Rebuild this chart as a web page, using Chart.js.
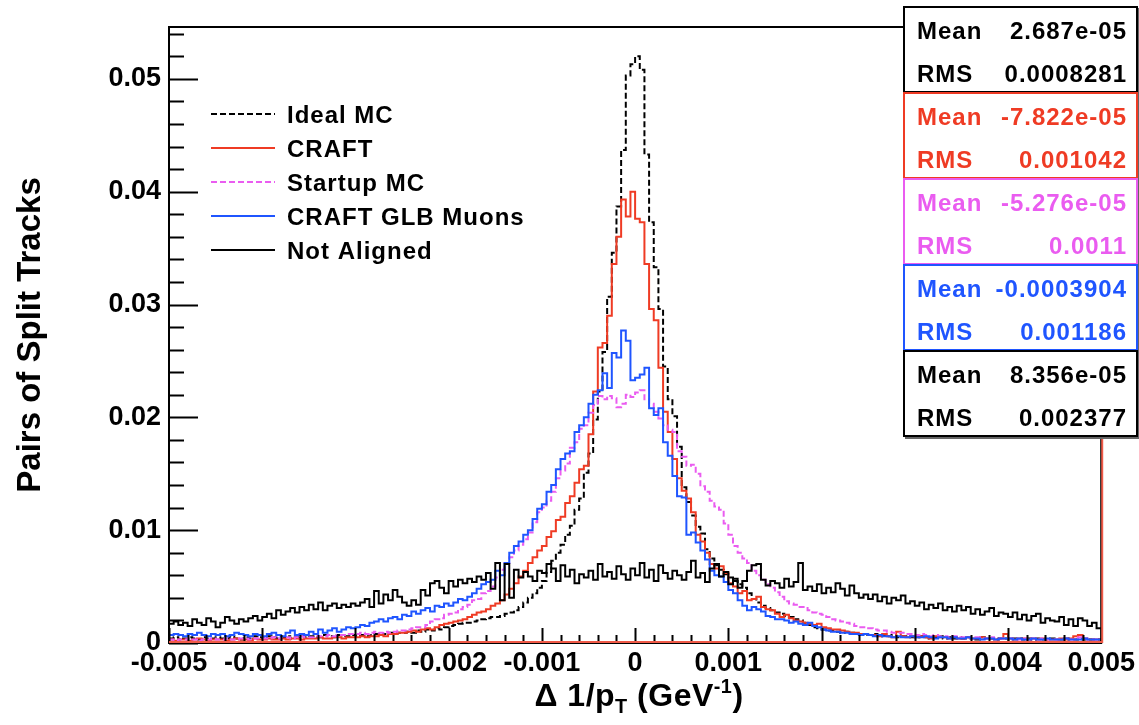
<!DOCTYPE html>
<html>
<head>
<meta charset="utf-8">
<title>Pairs of split tracks vs delta 1/pT</title>
<script src="https://cdn.jsdelivr.net/npm/chart.js@4.4.1/dist/chart.umd.min.js"></script>
<style>
  body { margin: 0; background: #fff; }
  #wrap { position: relative; width: 1139px; height: 725px; font-family: "Liberation Sans", Arial, sans-serif; }
  #xtitle { position: absolute; left: 639px; top: 677px; transform: translateX(-50%); font-size: 32px; font-weight: bold; line-height: 36px; white-space: nowrap; letter-spacing: 0.5px; }
  #xtitle sub { font-size: 62%; vertical-align: -7px; line-height: 0; }
  #xtitle sup { font-size: 62%; vertical-align: 13px; line-height: 0; }
  .stat { position: absolute; left: 903px; width: 231px; height: 83px; border: 2px solid #000; background: #fff; box-shadow: 2px 2px 0 #666; font-size: 24px; font-weight: bold; letter-spacing: 1px; }
  .stat span { position: absolute; line-height: 24px; white-space: nowrap; }
</style>
</head>
<body>
<div id="wrap">
  <canvas id="hist" width="1139" height="725"></canvas>
  <div id="xtitle">&Delta; 1/p<sub>T</sub> (GeV<sup>-1</sup>)</div>
</div>
<script>
// histogram binning: 200 bins from -0.005 to 0.005
const binLow = -0.005;
const binWidth = 0.00005;

// bin contents, in units of 1e-3
const idealMC = [
  0.4,0.5,0.3,0.4,0.5,0.4,0.3,0.5,0.4,0.4, 0.5,0.4,0.4,0.6,0.4,0.3,0.5,0.4,0.6,0.5,
  0.4,0.6,0.5,0.4,0.5,0.6,0.4,0.5,0.6,0.5, 0.6,0.5,0.5,0.7,0.6,0.5,0.7,0.6,0.6,0.7,
  0.6,0.7,0.6,0.7,0.8,0.7,0.8,0.9,0.8,0.9, 0.9,1.0,0.9,1.1,1.0,1.2,1.1,1.3,1.2,1.4,
  1.5,1.6,1.7,1.8,1.8,1.9,2.0,2.1,2.2,2.3, 2.3,2.4,2.6,2.7,2.9,3.2,3.6,4.0,4.4,4.9,
  5.5,6.3,7.3,8.0,8.7,9.6,10.4,11.8,12.8,15.1, 16.8,19.8,22.3,25.8,30.7,34.6,38.7,43.7,50.3,51.3,
  52.0,50.8,43.3,37.3,33.3,29.6,24.5,21.6,20.1,17.4, 13.8,12.5,11.3,10.3,9.7,8.3,7.5,6.9,6.5,6.1,
  5.8,5.5,5.2,4.9,4.4,3.9,3.6,3.3,3.1,2.9, 2.7,2.6,2.4,2.3,2.1,2.0,1.8,1.6,1.4,1.3,
  1.2,1.1,1.1,1.0,0.9,1.0,0.9,0.8,0.8,0.7, 0.7,0.8,0.6,0.7,0.6,0.7,0.5,0.6,0.6,0.5,
  0.5,0.6,0.5,0.4,0.5,0.6,0.4,0.5,0.4,0.5, 0.4,0.5,0.4,0.3,0.5,0.4,0.4,0.3,0.4,0.4,
  0.3,0.4,0.4,0.3,0.4,0.3,0.4,0.3,0.3,0.4, 0.3,0.3,0.4,0.3,0.3,0.4,0.3,0.3,0.3,0.3
];
const craft = [
  0.3,0.2,0.3,0.3,0.2,0.3,0.4,0.3,0.2,0.3, 0.3,0.3,0.2,0.3,0.4,0.3,0.3,0.2,0.4,0.3,
  0.3,0.4,0.3,0.3,0.4,0.3,0.4,0.4,0.3,0.4, 0.4,0.4,0.5,0.4,0.4,0.5,0.5,0.4,0.5,0.5,
  0.5,0.6,0.5,0.6,0.6,0.7,0.6,0.8,0.8,0.9, 0.9,1.0,1.1,1.0,1.2,1.3,1.2,1.4,1.6,1.7,
  1.8,1.9,2.0,2.1,2.3,2.5,2.7,2.8,3.0,3.3, 3.5,3.8,4.3,4.8,5.3,5.9,6.4,7.1,7.6,8.2,
  8.6,9.4,9.9,10.9,11.2,12.4,13.0,14.2,15.4,15.7, 18.5,22.3,26.2,26.6,29.0,33.6,36.0,39.3,37.8,40.0,
  37.6,37.3,33.6,29.6,28.6,24.4,20.5,18.7,16.3,14.6, 13.5,12.8,11.6,9.6,9.0,8.0,7.0,6.6,6.8,6.2,
  5.3,5.0,4.4,4.6,3.8,3.9,4.1,3.2,3.0,2.9, 2.6,2.3,2.5,2.2,2.0,1.9,1.8,1.7,1.6,1.7,
  1.4,1.3,1.2,1.2,1.1,1.0,0.9,0.9,0.8,0.8, 0.7,0.7,0.6,0.8,0.6,0.5,1.0,0.6,0.5,0.6,
  0.5,0.6,0.5,0.4,0.6,0.5,0.5,0.4,0.5,0.4, 0.4,0.5,0.4,0.4,0.5,0.4,0.4,0.3,0.4,0.8,
  0.4,0.3,0.4,0.4,0.3,0.4,0.3,0.4,0.3,0.3, 0.3,0.4,0.3,0.4,0.6,0.7,0.4,0.3,0.3,0.3
];
const startupMC = [
  0.3,0.2,0.3,0.3,0.4,0.3,0.2,0.3,0.3,0.4, 0.3,0.3,0.4,0.3,0.3,0.4,0.4,0.3,0.4,0.4,
  0.4,0.4,0.5,0.4,0.5,0.5,0.4,0.5,0.6,0.5, 0.5,0.6,0.6,0.6,0.7,0.6,0.7,0.7,0.8,0.8,
  0.8,0.9,0.8,0.9,1.0,0.9,1.0,0.9,1.0,1.1, 1.1,1.2,1.3,1.4,1.4,1.6,1.9,2.1,2.2,2.5,
  2.6,2.7,3.0,3.2,3.4,3.8,3.9,4.4,4.6,5.0, 5.8,6.5,7.1,7.6,8.2,8.7,9.2,9.8,10.7,11.6,
  12.0,12.6,13.4,14.6,15.3,15.9,17.3,17.8,19.0,19.3, 20.4,21.1,21.9,21.6,21.9,21.7,20.9,21.2,22.0,21.8,
  22.2,22.4,21.6,21.2,20.5,19.9,19.3,18.9,18.7,17.0, 16.5,15.7,15.8,15.0,13.9,13.4,12.6,12.1,11.8,10.6,
  9.6,8.6,8.0,7.5,7.1,6.4,6.0,5.6,5.2,4.9, 4.5,4.1,3.7,3.5,3.4,3.2,3.2,2.9,2.7,2.6,
  2.5,2.3,2.1,2.0,1.9,1.8,1.7,1.5,1.4,1.4, 1.3,1.2,1.1,1.1,1.0,0.9,0.9,0.9,0.8,0.8,
  0.7,0.8,0.7,0.6,0.7,0.6,0.6,0.5,0.6,0.5, 0.5,0.5,0.4,0.5,0.4,0.4,0.5,0.4,0.4,0.4,
  0.4,0.4,0.3,0.4,0.3,0.4,0.3,0.4,0.3,0.3, 0.3,0.3,0.4,0.3,0.3,0.5,0.4,0.3,0.3,0.3
];
const craftGlbMuons = [
  0.7,0.8,0.7,0.6,0.8,0.7,0.9,0.7,0.6,0.8, 0.7,0.8,0.6,0.7,0.9,0.8,0.7,0.6,0.8,0.7,
  0.6,0.8,0.9,0.7,0.6,0.9,1.1,0.7,0.8,0.7, 1.0,0.8,1.2,0.9,1.1,1.3,1.0,1.2,1.4,1.3,
  1.4,1.6,1.5,1.8,1.9,2.1,1.9,2.2,2.3,2.1, 2.5,2.4,2.8,2.6,2.9,3.1,2.8,3.3,3.2,3.5,
  3.3,3.6,3.9,3.8,4.1,4.4,4.8,5.2,5.4,5.6, 6.4,6.0,7.1,8.0,8.6,9.0,9.6,10.0,11.0,11.9,
  12.3,13.4,14.0,15.4,16.3,16.8,17.0,18.7,19.3,20.0, 21.2,22.0,22.4,23.9,22.6,25.7,25.3,27.7,26.8,23.3,
  23.5,23.8,24.4,20.8,20.2,20.8,17.8,16.6,14.8,13.0, 12.9,9.6,9.8,8.9,8.2,7.4,6.4,6.0,5.9,5.4,
  4.7,4.4,3.8,3.3,2.9,3.2,3.0,2.8,2.4,2.3, 2.1,2.1,2.0,1.8,1.9,1.7,1.6,1.8,1.5,1.4,
  1.2,1.1,1.0,1.0,0.9,0.9,0.8,0.8,0.7,0.8, 0.7,0.6,0.7,0.6,0.6,0.5,0.6,0.5,0.5,0.6,
  0.5,0.5,0.6,0.5,0.4,0.5,0.5,0.4,0.5,0.4, 0.4,0.5,0.4,0.4,0.3,0.4,0.4,0.3,0.4,0.4,
  0.4,0.3,0.4,0.3,0.3,0.4,0.3,0.3,0.4,0.3, 0.3,0.3,0.4,0.3,0.3,0.3,0.4,0.3,0.3,0.3
];
const notAligned = [
  1.7,1.9,1.6,1.8,1.5,2.1,1.8,1.6,2.2,1.9, 1.4,1.8,2.3,2.0,1.7,2.1,1.9,2.2,2.4,2.0,
  2.3,2.6,2.2,2.9,2.5,2.8,3.1,2.7,3.2,2.9, 3.4,3.0,3.6,2.9,3.3,3.5,3.1,3.4,3.2,3.5,
  3.3,3.6,3.9,3.2,4.6,3.5,4.3,3.8,4.7,4.1, 3.6,3.3,3.8,3.4,4.7,4.2,5.3,5.5,4.9,4.4,
  5.5,5.0,5.6,5.3,5.7,5.4,5.9,5.6,6.2,4.8, 7.1,3.8,7.0,4.0,6.5,5.8,6.3,5.9,5.5,6.4,
  6.2,7.0,6.6,5.5,6.9,5.9,6.5,5.3,6.1,5.8, 6.4,5.6,7.0,5.9,6.3,5.7,6.8,6.1,5.6,6.6,
  6.0,7.1,5.8,6.5,5.5,6.9,6.2,5.7,6.4,6.0, 5.6,6.3,7.3,5.8,6.2,5.4,6.6,7.0,5.9,6.3,
  5.2,5.7,4.9,5.5,6.4,6.9,7.0,5.6,5.1,5.5, 5.3,4.9,5.7,5.0,5.4,7.1,4.7,5.0,4.6,5.2,
  4.4,4.9,4.5,5.3,4.8,4.2,5.1,4.4,4.0,4.3, 3.9,4.3,3.7,4.1,3.5,4.0,3.8,4.2,3.5,3.7,
  3.3,3.6,3.0,3.4,3.1,3.5,2.9,3.2,2.8,3.3, 2.9,3.2,2.6,3.0,2.5,2.8,3.1,2.4,2.7,2.6,
  2.3,2.7,2.1,2.5,2.0,2.4,2.6,1.8,2.2,2.0, 1.9,2.3,1.6,2.1,1.5,2.2,2.0,1.5,1.8,1.3
];

const seriesNames = ['Ideal MC', 'CRAFT', 'Startup MC', 'CRAFT GLB Muons', 'Not Aligned'];
const seriesValues = [idealMC, craft, startupMC, craftGlbMuons, notAligned];
const seriesColors = ['#000000', '#ef3b24', '#ea5cf0', '#1f55ff', '#000000'];
const seriesDashed = [true, false, true, false, false];

// statistics boxes
const statMean = ['2.687e-05', '-7.822e-05', '-5.276e-05', '-0.0003904', '8.356e-05'];
const statRms = ['0.0008281', '0.001042', '0.0011', '0.001186', '0.002377'];

// axis ticks
const xTickValues = [-0.005, -0.004, -0.003, -0.002, -0.001, 0, 0.001, 0.002, 0.003, 0.004, 0.005];
const xTickLabels = ['-0.005', '-0.004', '-0.003', '-0.002', '-0.001', '0', '0.001', '0.002', '0.003', '0.004', '0.005'];
const yTickValues = [0, 0.01, 0.02, 0.03, 0.04, 0.05];
const yTickLabels = ['0', '0.01', '0.02', '0.03', '0.04', '0.05'];
const yMax = 0.0546;

const fontFamily = '"Liberation Sans", Arial, sans-serif';

// one point per bin low edge plus the last high edge, drawn as steps
function histPoints(vals) {
  const pts = vals.map((v, i) => ({ x: binLow + i * binWidth, y: v / 1000 }));
  pts.push({ x: binLow + vals.length * binWidth, y: vals[vals.length - 1] / 1000 });
  return pts;
}

const datasets = seriesNames.map((name, i) => ({
  label: name,
  data: histPoints(seriesValues[i]),
  borderColor: seriesColors[i],
  borderWidth: 2,
  borderDash: seriesDashed[i] ? [6, 3] : [],
  pointRadius: 0,
  fill: false,
  stepped: true,
  order: seriesNames.length - i
}));

// frame and inside ticks, the way ROOT draws them
const rootFrame = {
  id: 'rootFrame',
  afterDatasetsDraw(chart) {
    const { ctx, chartArea: a, scales: { x, y } } = chart;
    ctx.save();
    ctx.strokeStyle = '#000';
    ctx.lineWidth = 2;
    ctx.setLineDash([]);
    ctx.strokeRect(a.left, a.top, a.right - a.left, a.bottom - a.top);
    ctx.beginPath();
    for (let k = 0; k * 0.002 <= yMax; k++) {
      const py = Math.round(y.getPixelForValue(k * 0.002)) + 0.5;
      const len = k % 5 === 0 ? 29 : 15;
      ctx.moveTo(a.left, py);
      ctx.lineTo(a.left + len, py);
    }
    for (let k = -25; k <= 25; k++) {
      const px = Math.round(x.getPixelForValue(k * 0.0002)) + 0.5;
      const len = k % 5 === 0 ? 15 : 8;
      ctx.moveTo(px, a.bottom);
      ctx.lineTo(px, a.bottom - len);
    }
    ctx.stroke();
    ctx.strokeStyle = '#f05a48';
    ctx.beginPath();
    ctx.moveTo(a.left, a.bottom - 1);
    ctx.lineTo(a.right + 1, a.bottom - 1);
    ctx.lineTo(a.right + 1, a.top);
    ctx.stroke();
    ctx.restore();
  }
};

// legend inside the frame, top left
const insideLegend = {
  id: 'insideLegend',
  afterDatasetsDraw(chart) {
    const ctx = chart.ctx;
    ctx.save();
    ctx.font = 'bold 24px ' + fontFamily;
    ctx.textBaseline = 'middle';
    if ('letterSpacing' in ctx) ctx.letterSpacing = '1px';
    chart.data.datasets.forEach((ds, i) => {
      const y = 114 + i * 34;
      ctx.strokeStyle = ds.borderColor;
      ctx.lineWidth = 2;
      ctx.setLineDash(ds.borderDash);
      ctx.beginPath();
      ctx.moveTo(211, y);
      ctx.lineTo(275, y);
      ctx.stroke();
      ctx.setLineDash([]);
      ctx.fillStyle = '#000';
      ctx.fillText(ds.label, 287, y + 2);
    });
    ctx.restore();
  }
};

new Chart(document.getElementById('hist'), {
  type: 'line',
  data: { datasets: datasets },
  options: {
    responsive: false,
    animation: false,
    devicePixelRatio: 1,
    layout: { padding: { left: 0, right: 36, top: 27, bottom: 0 } },
    plugins: { legend: { display: false }, tooltip: { enabled: false } },
    scales: {
      x: {
        type: 'linear',
        min: -0.005,
        max: 0.005,
        grid: { display: false, drawTicks: false },
        border: { display: false },
        afterFit: (s) => { s.height = 82; },
        afterBuildTicks: (s) => { s.ticks = xTickValues.map(v => ({ value: v })); },
        ticks: {
          color: '#000',
          padding: 4,
          maxRotation: 0,
          autoSkip: false,
          font: { family: fontFamily, size: 27, weight: 'bold' },
          callback: (v, i) => xTickLabels[i]
        }
      },
      y: {
        min: 0,
        max: yMax,
        grid: { display: false, drawTicks: false },
        border: { display: false },
        afterFit: (s) => { s.width = 169; },
        afterBuildTicks: (s) => { s.ticks = yTickValues.map(v => ({ value: v })); },
        ticks: {
          color: '#000',
          padding: 8,
          autoSkip: false,
          font: { family: fontFamily, size: 27, weight: 'bold' },
          callback: (v, i) => yTickLabels[i]
        },
        title: {
          display: true,
          text: 'Pairs of Split Tracks',
          color: '#000',
          padding: { top: 11, bottom: 0 },
          font: { family: fontFamily, size: 33, weight: 'bold' }
        }
      }
    }
  },
  plugins: [rootFrame, insideLegend]
});

// stat boxes stacked at the top right
const wrap = document.getElementById('wrap');
statMean.forEach((m, i) => {
  const box = document.createElement('div');
  box.className = 'stat';
  box.style.top = (6 + i * 86) + 'px';
  box.style.borderColor = seriesColors[i];
  box.style.color = seriesColors[i];
  box.innerHTML =
    '<span style="left:12px;top:11px">Mean</span>' +
    '<span style="right:9px;top:11px">' + m + '</span>' +
    '<span style="left:12px;top:54px">RMS</span>' +
    '<span style="right:9px;top:54px">' + statRms[i] + '</span>';
  wrap.appendChild(box);
});
</script>
</body>
</html>
